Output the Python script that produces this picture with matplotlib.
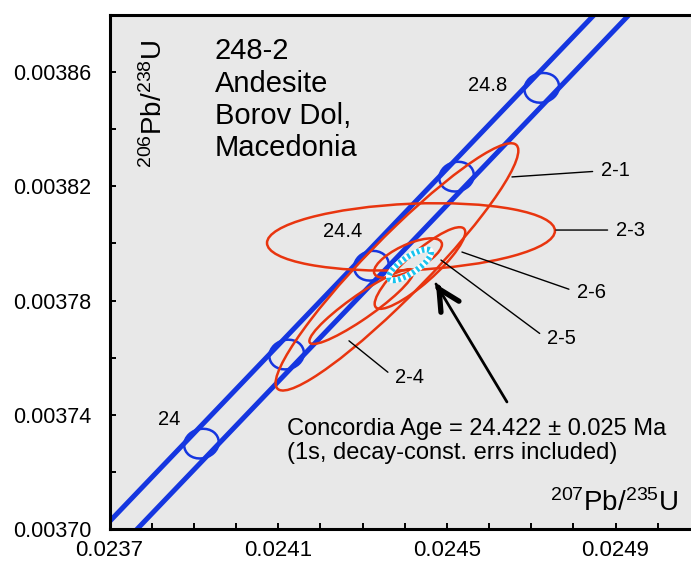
import numpy as np
import matplotlib.pyplot as plt
from matplotlib.patches import Ellipse
from matplotlib.ticker import FixedLocator, FormatStrFormatter

plt.rcParams['font.family'] = ['Liberation Sans', 'DejaVu Sans']
plt.rcParams['mathtext.fontset'] = 'custom'
plt.rcParams['mathtext.rm'] = 'Liberation Sans'
plt.rcParams['mathtext.default'] = 'regular'

# concordia age markers (Ma) with their 207Pb/235U and 206Pb/238U ratios
marker_ages = [24.0, 24.2, 24.4, 24.6, 24.8]
marker_x = [0.023918, 0.024120, 0.024321, 0.024523, 0.024725]
marker_y = [0.0037299, 0.0037611, 0.0037922, 0.0038234, 0.0038545]
marker_sx = 0.0000410
marker_sy = 0.0000052
marker_rho = 0.1
marker_labels = {24.0: '24', 24.4: '24.4', 24.8: '24.8'}

# edges of the decay-constant error band
band_y = [0.00368, 0.00390]
band_left_x = [0.0235535, 0.0249784]
band_right_x = [0.0236361, 0.0250610]

# spot analyses: ratios, error half-widths, error correlation
spots = ['2-1', '2-3', '2-4', '2-5', '2-6']
spot_x = [0.0243817, 0.0244149, 0.0242975, 0.0244078, 0.0244362]
spot_sx = [0.0002878, 0.0003414, 0.0001235, 0.0000806, 0.0001074]
spot_y = [0.0037918, 0.0038023, 0.0037779, 0.0037949, 0.0037914]
spot_sy = [0.0000433, 0.0000118, 0.0000131, 0.0000069, 0.0000143]
spot_rho = [0.94, 0.18, 0.922, 0.69, 0.876]

# concordia age ellipse
age_x, age_sx = 0.0244125, 0.0000500
age_y, age_sy = 0.0037925, 0.00000540
age_rho = 0.79

# axis ticks
x_major = [0.0237, 0.0241, 0.0245, 0.0249]
x_minor = [0.0238, 0.0239, 0.0240, 0.0242, 0.0243, 0.0244, 0.0246, 0.0247, 0.0248, 0.0250]
y_major = [0.00370, 0.00374, 0.00378, 0.00382, 0.00386]
y_minor = [0.00372, 0.00376, 0.00380, 0.00384]

BLUE = '#1536e0'
RED = '#e8350f'
CYAN = '#19c3ee'


def error_ellipse(x, y, sx, sy, rho, **kw):
    cov = np.array([[sx * sx, rho * sx * sy], [rho * sx * sy, sy * sy]])
    vals, vecs = np.linalg.eigh(cov)
    ang = np.degrees(np.arctan2(vecs[1, 1], vecs[0, 1]))
    return Ellipse((x, y), 2 * np.sqrt(vals[1]), 2 * np.sqrt(vals[0]),
                   angle=ang, fill=False, **kw)


fig = plt.figure(figsize=(6.91, 5.67), dpi=100)
ax = fig.add_axes([0.1585, 0.067, 0.8415, 0.9065])
ax.set_facecolor('#e8e8e8')

ax.plot(band_left_x, band_y, color=BLUE, lw=3.6, solid_capstyle='butt', zorder=2)
ax.plot(band_right_x, band_y, color=BLUE, lw=3.6, solid_capstyle='butt', zorder=2)

for age, mx, my in zip(marker_ages, marker_x, marker_y):
    ax.add_patch(error_ellipse(mx, my, marker_sx, marker_sy, marker_rho,
                               edgecolor=BLUE, lw=1.8, zorder=2))

label_offsets = {24.0: (-23.5, 17.5), 24.4: (-21, 25), 24.8: (-39, 1.5)}
for age, mx, my in zip(marker_ages, marker_x, marker_y):
    if age in marker_labels:
        ax.annotate(marker_labels[age], (mx, my), xytext=label_offsets[age],
                    textcoords='offset points', ha='center', va='center',
                    fontsize=14.5)

for i in range(len(spots)):
    ax.add_patch(error_ellipse(spot_x[i], spot_y[i], spot_sx[i], spot_sy[i],
                               spot_rho[i], edgecolor=RED, lw=1.8, zorder=3))

# concordia age drawn as a white/cyan checkered outline
ax.add_patch(error_ellipse(age_x, age_y, age_sx, age_sy, age_rho,
                           edgecolor='white', lw=4.2, zorder=4))
ax.add_patch(error_ellipse(age_x, age_y, age_sx, age_sy, age_rho,
                           edgecolor=CYAN, lw=4.2, linestyle=(0, (0.45, 0.45)),
                           zorder=5))

# spot labels with leader lines
leaders = {
    '2-1': ((0.0246544, 0.0038233), (0.0248654, 0.0038254)),
    '2-3': ((0.0247587, 0.0038047), (0.0249009, 0.0038047)),
    '2-6': ((0.0245358, 0.0037970), (0.0248085, 0.0037830)),
    '2-5': ((0.0244860, 0.0037942), (0.0247373, 0.0037666)),
    '2-4': ((0.0242679, 0.0037659), (0.0243770, 0.0037529)),
}
for name in spots:
    start, pos = leaders[name]
    ax.annotate(name, start, xytext=pos, ha='left', va='center', fontsize=14.5,
                arrowprops=dict(arrowstyle='-', color='black', lw=1.0,
                                relpos=(0, 0.5), shrinkA=4, shrinkB=0),
                zorder=6)

# arrow to the concordia age
tip = (0.0244742, 0.0037858)
tail = (0.0246425, 0.0037445)
ax.annotate('', tip, xytext=tail,
            arrowprops=dict(arrowstyle='-', color='black', lw=2.0,
                            shrinkA=0, shrinkB=0), zorder=6)
ax.annotate('', tip, xytext=(1.6, -2.6), textcoords='offset points',
            arrowprops=dict(arrowstyle='->,head_length=0.75,head_width=0.38',
                            color='black', lw=3.8, mutation_scale=20,
                            shrinkA=0, shrinkB=0), zorder=6)

ax.text(0.0241209, 0.0037308,
        'Concordia Age = 24.422 \u00b1 0.025 Ma\n(1s, decay-const. errs included)',
        ha='left', va='center', fontsize=17, linespacing=1.1)

ax.text(0.0239501, 0.0038503, '248-2\nAndesite\nBorov Dol,\nMacedonia',
        ha='left', va='center', fontsize=21, linespacing=1.2)

ax.text(0.077, 0.8274, r'$^{206}$Pb/$^{238}$U', transform=ax.transAxes,
        rotation=90, ha='center', va='center', fontsize=20)
ax.text(0.979, 0.0506, r'$^{207}$Pb/$^{235}$U', transform=ax.transAxes,
        ha='right', va='center', fontsize=20)

ax.set_xlim(0.0237, 0.025079)
ax.set_ylim(0.00370, 0.00388)
ax.xaxis.set_major_locator(FixedLocator(x_major))
ax.xaxis.set_minor_locator(FixedLocator(x_minor))
ax.yaxis.set_major_locator(FixedLocator(y_major))
ax.yaxis.set_minor_locator(FixedLocator(y_minor))
ax.xaxis.set_major_formatter(FormatStrFormatter('%.4f'))
ax.yaxis.set_major_formatter(FormatStrFormatter('%.5f'))
ax.tick_params(which='both', direction='in', length=4, width=1.4)
ax.tick_params(axis='x', which='major', pad=8, labelsize=16)
ax.tick_params(axis='y', which='major', pad=13, labelsize=15.5)
ax.spines['right'].set_visible(False)
for side in ('left', 'bottom', 'top'):
    ax.spines[side].set_linewidth(2.2)

plt.savefig('out.png', dpi=100)
